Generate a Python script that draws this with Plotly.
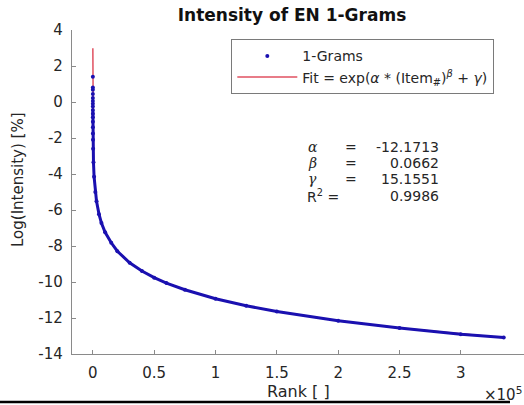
import plotly.graph_objects as go

# ---- data ----
data_rank = [1, 2, 3, 4, 5, 6, 7, 8, 10, 12, 15, 20, 30, 50, 100, 200, 500, 1000, 2000,
             3000, 5000, 7000, 10000, 15000, 20000, 30000, 40000, 50000, 60000, 75000,
             100000, 125000, 150000, 200000, 250000, 300000, 335000]
data_logint = [1.40, 0.80, 0.68, 0.45, 0.22, 0.05, -0.10, -0.25, -0.45, -0.65, -0.85, -1.10,
               -1.40, -1.75, -2.10, -2.60, -3.35, -4.15, -5.00, -5.52, -6.23, -6.72, -7.24,
               -7.82, -8.29, -8.93, -9.39, -9.76, -10.06, -10.43, -10.93, -11.32, -11.64,
               -12.15, -12.56, -12.90, -13.08]

fit_rank = [1, 2, 5, 10, 20, 50, 100, 200, 500, 1000, 2000, 3000, 5000, 7000, 10000, 15000,
            20000, 30000, 40000, 50000, 60000, 75000, 100000, 125000, 150000, 200000, 250000,
            300000, 335000]
fit_logint = [2.98, 2.41, 1.62, 0.98, 0.31, -0.61, -1.36, -2.13, -3.21, -4.07, -4.98, -5.52,
              -6.23, -6.72, -7.24, -7.82, -8.29, -8.93, -9.39, -9.76, -10.06, -10.43, -10.93,
              -11.32, -11.64, -12.15, -12.56, -12.90, -13.10]

x_ticks = [0, 50000, 100000, 150000, 200000, 250000, 300000]
x_tick_labels = ["0", "0.5", "1", "1.5", "2", "2.5", "3"]
y_ticks = [4, 2, 0, -2, -4, -6, -8, -10, -12, -14]
y_tick_labels = ["4", "2", "0", "-2", "-4", "-6", "-8", "-10", "-12", "-14"]

fit_params = [("α", "-12.1713"), ("β", "0.0662"), ("γ", "15.1551")]
r2_value = "0.9986"

# ---- layout geometry (pixels) ----
W, H = 524, 405
L, R, T, B = 72, 524, 30, 354


def px(x):
    return (x - L) / (R - L)


def py(y):
    return 1 - (y - T) / (B - T)


FONT = "DejaVu Sans, Liberation Sans, Arial, sans-serif"
TXT = "#262626"
AX = "#8a8a8a"

fig = go.Figure()

fig.add_trace(go.Scatter(
    x=fit_rank, y=fit_logint, mode="lines",
    line=dict(color="#e05060", width=1.5),
    name="Fit = exp(<i>α</i> * (Item<sub>#</sub>)<sup><i>β</i></sup> + <i>γ</i>)",
    legendrank=2,
))
dense = 8
fig.add_trace(go.Scatter(
    x=data_rank[dense:], y=data_logint[dense:], mode="lines",
    line=dict(color="#1a10b0", width=3), showlegend=False, hoverinfo="skip",
))
fig.add_trace(go.Scatter(
    x=data_rank, y=data_logint, mode="markers",
    marker=dict(color="#1a10b0", size=4),
    name="1-Grams", legendrank=1,
))


def ann(x, y, text, xanchor="center", size=14, family=FONT, **kw):
    return dict(x=px(x), y=py(y), xref="paper", yref="paper", text=text,
                showarrow=False, xanchor=xanchor, yanchor="middle",
                font=dict(family=family, size=size, color=TXT), **kw)


annotations = []
row_y = [147, 163, 179]
for (sym, val), yy in zip(fit_params, row_y):
    annotations.append(ann(306, yy, f"<i>{sym}</i>", "left", 14, "DejaVu Serif, serif"))
    annotations.append(ann(351, yy, "=", "center", 14))
    annotations.append(ann(441, yy, val, "right", 14))
annotations.append(ann(305, 196, "R<sup>2</sup> =", "left", 14))
annotations.append(ann(441, 196, r2_value, "right", 14))
# axis labels
annotations.append(ann(18, 180, "Log(Intensity) [%]", "center", 15, textangle=-90))
annotations.append(ann(298, 391, "Rank [ ]", "center", 16))
annotations.append(ann(524, 394, "×10<sup>5</sup>", "right", 15))

fig.update_layout(
    width=W, height=H,
    margin=dict(l=L, r=W - R, t=T, b=H - B),
    paper_bgcolor="white", plot_bgcolor="white",
    font=dict(family=FONT, size=14, color=TXT),
    title=dict(text="<b>Intensity of EN 1-Grams</b>", x=292 / W, xref="container",
               xanchor="center", y=1 - 15 / H, yanchor="middle", yref="container",
               font=dict(family=FONT, size=17, color="#111111")),
    xaxis=dict(range=[-17000, 351500], tickvals=x_ticks, ticktext=x_tick_labels,
               ticks="inside", ticklen=4, tickcolor=AX, showline=True, linecolor=AX,
               linewidth=1.3, showgrid=False, zeroline=False, ticklabelstandoff=5,
               tickfont=dict(size=15, color=TXT)),
    yaxis=dict(range=[-14, 4], tickvals=y_ticks, ticktext=y_tick_labels,
               ticks="inside", ticklen=4, tickcolor=AX, ticklabelstandoff=5,
               showline=True, linecolor=AX, linewidth=1.3, showgrid=False, zeroline=False,
               tickfont=dict(size=15, color=TXT)),
    legend=dict(x=px(231), y=py(39), xanchor="left", yanchor="top",
                bordercolor="#7a7a7a", borderwidth=1.3, bgcolor="white",
                font=dict(family=FONT, size=14, color=TXT), itemwidth=60,
                tracegroupgap=0),
    annotations=annotations,
    shapes=[dict(type="line", xref="paper", yref="paper", x0=px(0), x1=px(510),
                 y0=py(402), y1=py(402), line=dict(color="black", width=2.5))],
    showlegend=True,
)

fig.write_html("out.html", config={"displayModeBar": False},
               post_script="document.body.style.margin='0';"
               "document.body.style.padding='0';")
